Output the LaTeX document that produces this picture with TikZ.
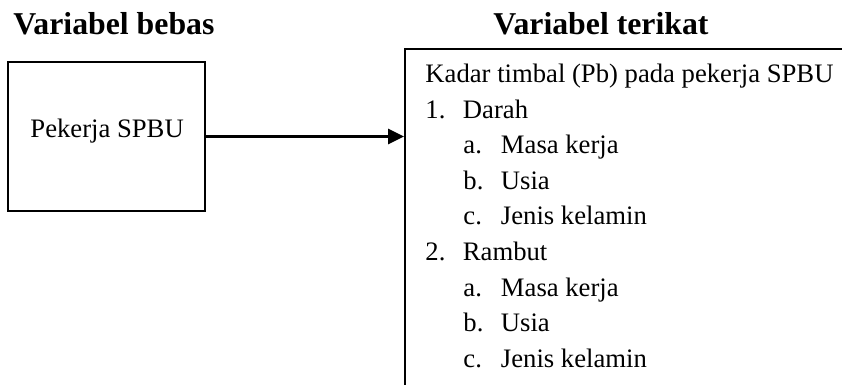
\documentclass[tikz,border=0pt]{standalone}
\usepackage{fontspec}
\setmainfont{Liberation Serif}
\usetikzlibrary{arrows.meta, positioning}

\begin{document}
\begin{tikzpicture}[
    x=0.45pt, y=-0.45pt,
    font=\fontsize{12}{14}\selectfont,
    box/.style={
        draw=black,
        rectangle,
        inner sep=0pt,
        line width=0.9pt
    },
    arrow/.style={
        -{Triangle[length=7.2pt,width=6.8pt]},
        line width=1.1pt,
        draw=black
    },
    heading/.style={
        font=\fontsize{14.3}{17}\selectfont\bfseries,
        anchor=base west,
        inner sep=0pt
    },
    entry/.style={
        anchor=base west,
        inner sep=0pt
    }
]

\useasboundingbox (0,0) rectangle (842,385);

% ============================================================
% Headings
% ============================================================

\node[heading] (hbebas)   at (13,35)  {Variabel bebas};
\node[heading] (hterikat) at (493,35) {Variabel terikat};

% ============================================================
% Left: independent variable
% ============================================================

\node[box, minimum width=88.65pt, minimum height=67.05pt] (bebas) at (106.5,136.5) {};
\node[entry] (pekerja) at (30,138) {Pekerja SPBU};

% ============================================================
% Right: dependent variable (box runs past the page edge)
% ============================================================

\node[box, minimum width=225pt, minimum height=180pt, anchor=north west] (terikat) at (404,48) {};

\node[entry] (kadar) at (425,83) {Kadar timbal (Pb) pada pekerja SPBU};
\foreach \i/\lab/\txt/\xl in {1/1./Darah/425, 2/a./Masa kerja/463, 3/b./Usia/463,
                              4/c./Jenis kelamin/463, 5/2./Rambut/425, 6/a./Masa kerja/463,
                              7/b./Usia/463, 8/c./Jenis kelamin/463} {
    \node[entry] (lab\i)  at (\xl, {83+35.5*\i})    {\lab};
    \node[entry] (item\i) at (\xl+37.5, {83+35.5*\i}) {\txt};
}

% ============================================================
% Arrow
% ============================================================

\draw[arrow] (bebas.east) -- (bebas.east -| terikat.west);

\end{tikzpicture}
\end{document}
